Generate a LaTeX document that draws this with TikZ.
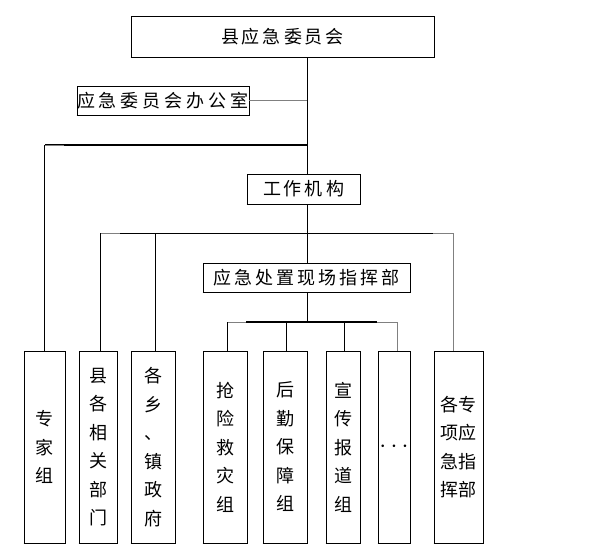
\documentclass[tikz,border=0pt]{standalone}
\usepackage{fontspec}
\setmainfont{Noto Sans CJK SC}
\begin{document}
\begin{tikzpicture}[x=1pt,y=-1pt,
 box/.style={draw, line width=0.9pt, inner sep=0pt, align=center, font=\fontsize{18}{28.5}\selectfont},
 ln/.style={line width=0.9pt},
 thk/.style={line width=2pt},
 gl/.style={line width=0.9pt, gray}]
\useasboundingbox[fill=white] (0,0) rectangle (614,557);
% top boxes
\node[box, minimum width=303, minimum height=41] (top) at (282.5,36.5) {县\,应\,急\,委\,员\,会};
\node[box, minimum width=168, minimum height=29] (bg) at (163,100.5) {应\hspace{4pt}急\hspace{4pt}委\hspace{4pt}员\hspace{4pt}会\hspace{4pt}办\hspace{4pt}公\hspace{4pt}室};
\node[box, minimum width=113, minimum height=30] (jg) at (303.5,189) {工\,作\,机\,构};
\node[box, minimum width=207, minimum height=29] (zh) at (306.5,277.5) {应\,急\,处\,置\,现\,场\,指\,挥\,部};
% bottom boxes
\node[box, minimum width=41, minimum height=192] (zj) at (44.5,447) {专\\家\\组};
\node[box, minimum width=38, minimum height=192] (xg) at (98,447) {县\\各\\相\\关\\部\\门};
\node[box, minimum width=44, minimum height=192] (gx) at (153,447) {各\\乡\\、\\镇\\政\\府};
\node[box, minimum width=44, minimum height=192] (qx) at (225,447) {抢\\险\\救\\灾\\组};
\node[box, minimum width=44, minimum height=192] (hq) at (285,447) {后\\勤\\保\\障\\组};
\node[box, minimum width=34, minimum height=192] (xc) at (343,447) {宣\\传\\报\\道\\组};
\node[box, minimum width=32, minimum height=192] (dd) at (394,447) {\fontsize{26}{26}\selectfont$\cdots$};
\node[box, minimum width=49, minimum height=192] (gz) at (458.5,447) {各专\\项应\\急指\\挥部};
\foreach \n in {top,bg,jg,zh,zj,xg,gx,qx,hq,xc,dd,gz}
  \draw[line width=1.8pt] (\n.south west) -- (\n.south east);
% junction coordinates
\coordinate (oa) at (307,100.5);
\coordinate (ta) at (307,145);
\coordinate (tb) at (307,233);
\coordinate (bL) at (100,233);
\coordinate (bM) at (155,233);
\coordinate (bR) at (453,233);
\coordinate (tc) at (307,322);
\coordinate (cL) at (227,322);
\coordinate (c2) at (286,322);
\coordinate (c3) at (344,322);
\coordinate (cR) at (397,322);
% trunk
\draw[ln] (top.south -| ta) -- (jg.north -| ta);
\draw[ln] (jg.south -| tb) -- (zh.north -| tb);
\draw[ln] (zh.south -| tc) -- (tc);
% office
\draw[gl] (bg.east) -- (oa);
% expert group branch
\draw[thk] (ta) -- (ta -| zj.north);
\draw[gl] (ta -| zj.north) -- ++(19,0);
\draw[ln] (ta -| zj.north) -- (zj.north);
% second level bar
\draw[ln] (bL) -- (bR);
\draw[gl] (bL) -- ++(20,0);
\draw[gl] (bR) -- ++(-20,0);
\draw[ln] (bL) -- (bL |- xg.north);
\draw[ln] (bM) -- (bM |- gx.north);
\draw[gl] (bR) -- (bR |- gz.north);
% third level bar
\draw[ln] (cL) -- (cR);
\draw[thk] ([xshift=19pt]cL) -- ([xshift=-20pt]cR);
\draw[gl] (cL) -- ++(19,0);
\draw[gl] (cR) -- ++(-20,0);
\draw[ln] (cL) -- (cL |- qx.north);
\draw[ln] (c2) -- (c2 |- hq.north);
\draw[ln] (c3) -- (c3 |- xc.north);
\draw[gl] (cR) -- (cR |- dd.north);
\end{tikzpicture}
\end{document}
